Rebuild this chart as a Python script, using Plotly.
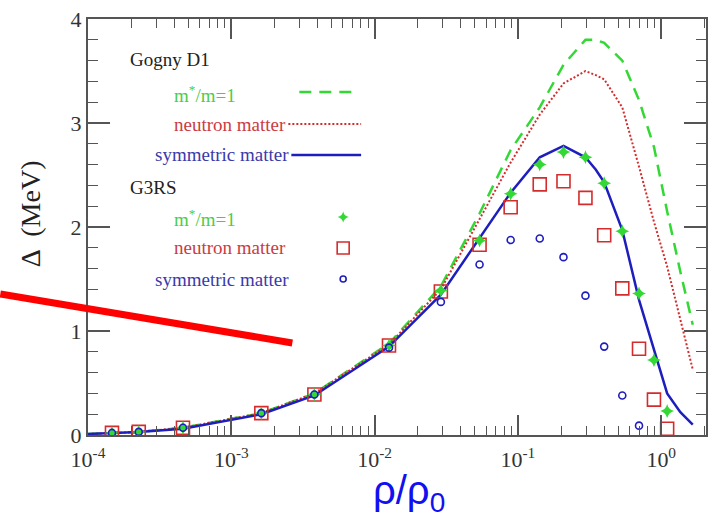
import plotly.graph_objects as go

# Density grid (rho/rho0) for the Gogny D1 gap curves
rho_d1 = [1e-4, 1.47e-4, 2.26e-4, 4.6e-4, 1.62e-3, 3.8e-3, 0.0126, 0.029, 0.054,
          0.089, 0.142, 0.208, 0.296, 0.35, 0.40, 0.535, 0.70, 0.89, 1.10, 1.36, 1.66]
gap_d1_meff1 = [0.01, 0.02, 0.03, 0.07, 0.21, 0.40, 0.88, 1.43, 2.13, 2.74, 3.15,
                3.56, 3.80, 3.80, 3.77, 3.60, 3.22, 2.77, 2.15, 1.57, 1.06]
gap_d1_neutron = [0.01, 0.02, 0.03, 0.07, 0.21, 0.40, 0.87, 1.40, 2.08, 2.62, 3.08,
                  3.38, 3.50, 3.46, 3.42, 3.15, 2.58, 2.05, 1.62, 1.10, 0.63]
gap_d1_symmetric = [0.01, 0.02, 0.03, 0.06, 0.20, 0.38, 0.85, 1.35, 1.90, 2.33, 2.67,
                    2.78, 2.67, 2.55, 2.43, 1.97, 1.30, 0.82, 0.40, 0.22, 0.10]

# G3RS points
rho_g3rs = [1.47e-4, 2.26e-4, 4.6e-4, 1.62e-3, 3.8e-3, 0.0126, 0.029, 0.054, 0.089,
            0.142, 0.208, 0.296, 0.40, 0.535, 0.70, 0.89, 1.10]
gap_g3rs_meff1 = [0.02, 0.03, 0.07, 0.21, 0.39, 0.86, 1.39, 1.87, 2.32, 2.60, 2.72,
                  2.67, 2.42, 1.96, 1.36, 0.72, 0.23]
gap_g3rs_neutron = [0.02, 0.03, 0.07, 0.21, 0.39, 0.86, 1.38, 1.83, 2.19, 2.41, 2.44,
                    2.28, 1.92, 1.41, 0.83, 0.34, 0.06]
gap_g3rs_symmetric = [0.02, 0.03, 0.07, 0.21, 0.39, 0.84, 1.28, 1.64, 1.875, 1.89,
                      1.71, 1.34, 0.85, 0.38, 0.09]

x_tickvals = [1e-4, 1e-3, 1e-2, 1e-1, 1e0]
x_ticktext = ["10<sup>-4</sup>", "10<sup>-3</sup>", "10<sup>-2</sup>",
              "10<sup>-1</sup>", "10<sup>0</sup>"]
y_tickvals = [0, 1, 2, 3, 4]

GREEN = "#34d834"
RED = "#d42c2c"
BLUE = "#1e1ebe"
TXT_GREEN = "#4ccc4c"
TXT_RED = "#cc3a44"
TXT_BLUE = "#3a3aaa"
AXIS = "#555555"
SERIF = "Liberation Serif, Times New Roman, serif"

W, H = 712, 519
L, R, T, B = 88, 4, 19, 84


def px(x):
    return (x - L) / (W - L - R)


def py(y):
    return (H - B - y) / (H - T - B)


fig = go.Figure()

fig.add_trace(go.Scatter(x=rho_d1, y=gap_d1_meff1, mode="lines",
                         line=dict(color=GREEN, width=2.5, dash="12px,8px")))
fig.add_trace(go.Scatter(x=rho_d1, y=gap_d1_neutron, mode="lines",
                         line=dict(color=RED, width=2, dash="2px,2px")))
fig.add_trace(go.Scatter(x=rho_d1, y=gap_d1_symmetric, mode="lines",
                         line=dict(color=BLUE, width=2.5)))

fig.add_trace(go.Scatter(x=rho_g3rs, y=gap_g3rs_neutron, mode="markers",
                         marker=dict(symbol="square-open", size=13, color=RED,
                                     line=dict(width=1.6, color=RED))))
fig.add_trace(go.Scatter(x=rho_g3rs, y=gap_g3rs_meff1, mode="markers",
                         marker=dict(symbol="star-diamond", size=10, color=GREEN,
                                     line=dict(width=0))))
fig.add_trace(go.Scatter(x=rho_g3rs[:len(gap_g3rs_symmetric)], y=gap_g3rs_symmetric,
                         mode="markers",
                         marker=dict(symbol="circle-open", size=7, color=BLUE,
                                     line=dict(width=1.6, color=BLUE))))

# Legend sample symbols on an overlay axis spanning the paper
fig.add_trace(go.Scatter(x=[px(344)], y=[py(217)], xaxis="x2", yaxis="y2", mode="markers",
                         marker=dict(symbol="star-diamond", size=8, color=GREEN)))
fig.add_trace(go.Scatter(x=[px(344)], y=[py(248)], xaxis="x2", yaxis="y2", mode="markers",
                         marker=dict(symbol="square-open", size=12, color=RED,
                                     line=dict(width=1.6, color=RED))))
fig.add_trace(go.Scatter(x=[px(344)], y=[py(279)], xaxis="x2", yaxis="y2", mode="markers",
                         marker=dict(symbol="circle-open", size=6, color=BLUE,
                                     line=dict(width=1.6, color=BLUE))))

# Legend sample lines
for x0, x1, y0, col, dash, w in [(300, 356, 92, GREEN, "12px,8px", 2.5),
                                  (289, 362, 124, RED, "2px,2px", 2),
                                  (292, 362, 155, BLUE, "solid", 2.5)]:
    fig.add_shape(type="line", xref="paper", yref="paper",
                  x0=px(x0), x1=px(x1), y0=py(y0), y1=py(y0),
                  line=dict(color=col, width=w, dash=dash))

legend_text = [
    ("Gogny D1", 128, 60, "#222222"),
    ("m<sup>*</sup>/m=1", 172, 94, TXT_GREEN),
    ("neutron matter", 172, 124, TXT_RED),
    ("symmetric matter", 153, 155, TXT_BLUE),
    ("G3RS", 128, 187, "#222222"),
    ("m<sup>*</sup>/m=1", 172, 218, TXT_GREEN),
    ("neutron matter", 172, 248, TXT_RED),
    ("symmetric matter", 153, 279, TXT_BLUE),
]
for txt, x0, y0, col in legend_text:
    fig.add_annotation(text=txt, xref="paper", yref="paper", x=px(x0), y=py(y0),
                       xanchor="left", yanchor="middle", showarrow=False,
                       font=dict(family=SERIF, size=19, color=col))

# Axis titles
fig.add_annotation(text="\u0394  (MeV)", xref="paper", yref="paper", x=px(30), y=py(214),
                   textangle=-90, showarrow=False, xanchor="center", yanchor="middle",
                   font=dict(family=SERIF, size=28, color="#222222"))
fig.add_annotation(text="\u03c1/\u03c1<sub>0</sub>", xref="paper", yref="paper",
                   x=px(410), y=py(493), showarrow=False, xanchor="center",
                   yanchor="middle",
                   font=dict(family="Liberation Sans, Arial, sans-serif", size=40,
                             color="#1010f0"))

# Red pointer stroke
fig.add_shape(type="line", xref="paper", yref="paper",
              x0=px(0), y0=py(294), x1=px(293), y1=py(343),
              line=dict(color="#ff0000", width=7))

fig.update_layout(
    width=W, height=H,
    margin=dict(l=L, r=R, t=T, b=B),
    paper_bgcolor="white", plot_bgcolor="white",
    showlegend=False,
    xaxis=dict(type="log", range=[-4, 0.3125], tickvals=x_tickvals, ticktext=x_ticktext,
               ticks="inside", ticklen=20, tickwidth=1.5, tickcolor=AXIS,
               minor=dict(ticks="inside", ticklen=9, tickwidth=1.2, tickcolor=AXIS,
                          dtick="D1", showgrid=False),
               showline=True, linecolor=AXIS, linewidth=2, mirror="ticks",
               showgrid=False, zeroline=False, ticklabelstandoff=4,
               tickfont=dict(family=SERIF, size=22, color="#333333")),
    yaxis=dict(range=[0, 4], tickvals=y_tickvals,
               ticks="inside", ticklen=22, tickwidth=1.5, tickcolor=AXIS,
               minor=dict(ticks="inside", ticklen=10, tickwidth=1.2, tickcolor=AXIS,
                          dtick=0.2, showgrid=False),
               showline=True, linecolor=AXIS, linewidth=2, mirror="ticks",
               showgrid=False, zeroline=False,
               tickfont=dict(family=SERIF, size=22, color="#333333")),
    xaxis2=dict(overlaying="x", range=[0, 1], visible=False),
    yaxis2=dict(overlaying="y", range=[0, 1], visible=False),
)

fig.write_html("out.html")
